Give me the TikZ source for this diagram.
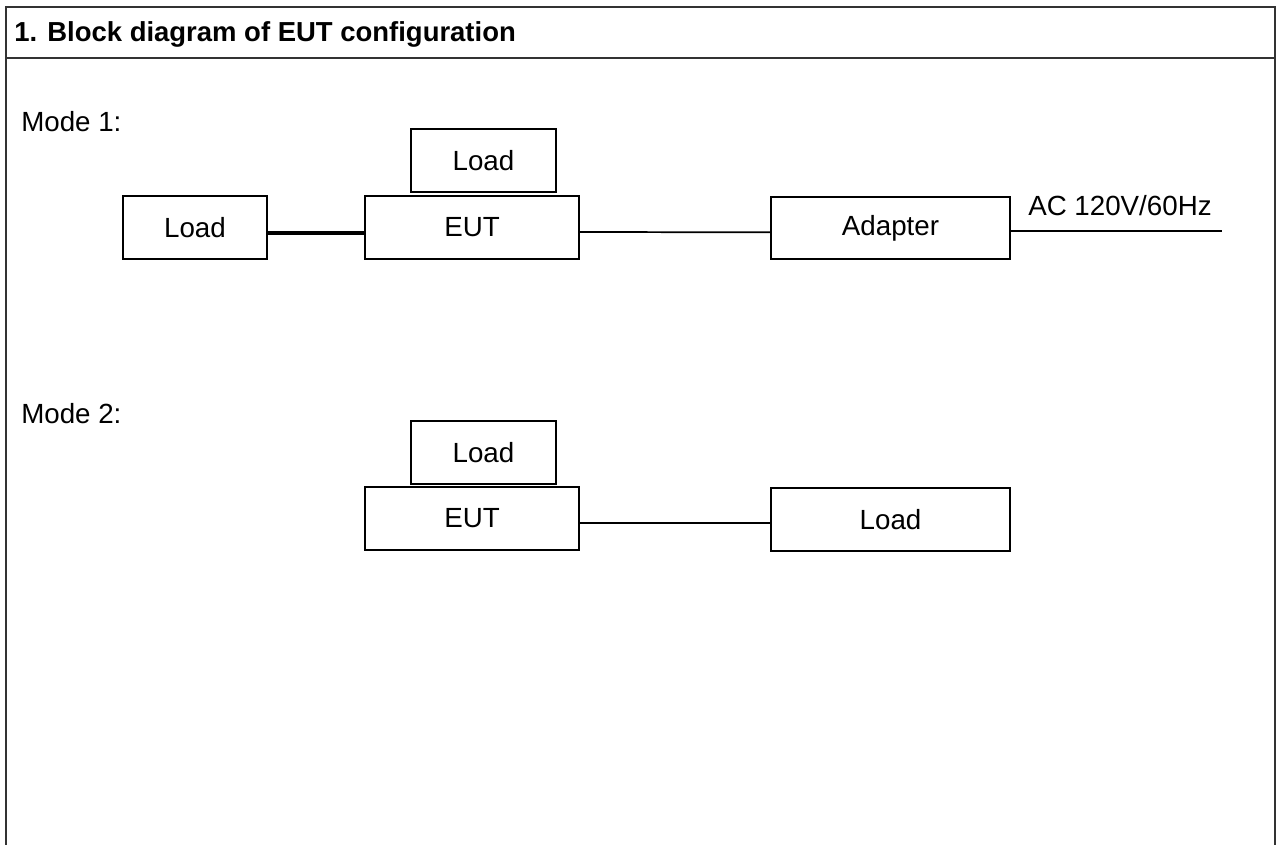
\documentclass[tikz,border=0pt]{standalone}
\usepackage{fontspec}
\setmainfont{Liberation Sans}
\usetikzlibrary{positioning}
\tikzset{
  frame/.style={line width=1.1pt, black!80},
  txt/.style={font=\fontsize{20.8pt}{24pt}\selectfont, inner sep=0pt},
  box/.style={draw, line width=1.4pt, minimum height=47pt, inner sep=0pt, font=\fontsize{20.8pt}{24pt}\selectfont},
  wire/.style={line width=1.3pt},
  fatwire/.style={line width=2.4pt}
}

\begin{document}
\begin{tikzpicture}[x=0.75pt,y=-0.75pt]
  \useasboundingbox (0,0) rectangle (1281,845);
  % frame
  \draw[frame] (6,845) -- (6,7) -- (1275,7) -- (1275,845);
  \draw[frame] (6,58) -- (1275,58);
  \node[txt, anchor=base west, font=\bfseries\fontsize{20.6pt}{24pt}\selectfont] (title) at (14,42) {1. Block diagram of EUT configuration};

  % mode 1
  \node[txt, anchor=base west] (modeA) at (21,132) {Mode 1:};
  \node[box, minimum width=108.75pt] (loadAtop) at (483.5,160.5) {Load};
  \node[box, minimum width=160.5pt] (eutA) at (472,227.5) {EUT};
  \node[box, minimum width=108pt] (loadAleft) at (195,227.5) {Load};
  \node[box, minimum width=179.25pt] (adapter) at (890.5,228) {Adapter};
  \coordinate (mains) at (1222,231);
  \draw[fatwire] ([yshift=-4.1pt]loadAleft.east) -- ([yshift=-4.1pt]eutA.west);
  \draw[wire] ([yshift=-3.4pt]eutA.east) -- ([yshift=-3.2pt]adapter.west);
  \draw[wire] (adapter.east |- mains) -- (mains);
  \node[txt, anchor=base west] (acin) at (1028,215) {AC 120V/60Hz};

  % mode 2
  \node[txt, anchor=base west] (modeB) at (21,423) {Mode 2:};
  \node[box, minimum width=108.75pt] (loadBtop) at (483.5,452.5) {Load};
  \node[box, minimum width=160.5pt] (eutB) at (472,518.5) {EUT};
  \node[box, minimum width=179.25pt] (loadBright) at (890.5,519.5) {Load};
  \draw[wire] ([yshift=-3.4pt]eutB.east) -- ([yshift=-2.6pt]loadBright.west);
\end{tikzpicture}
\end{document}
